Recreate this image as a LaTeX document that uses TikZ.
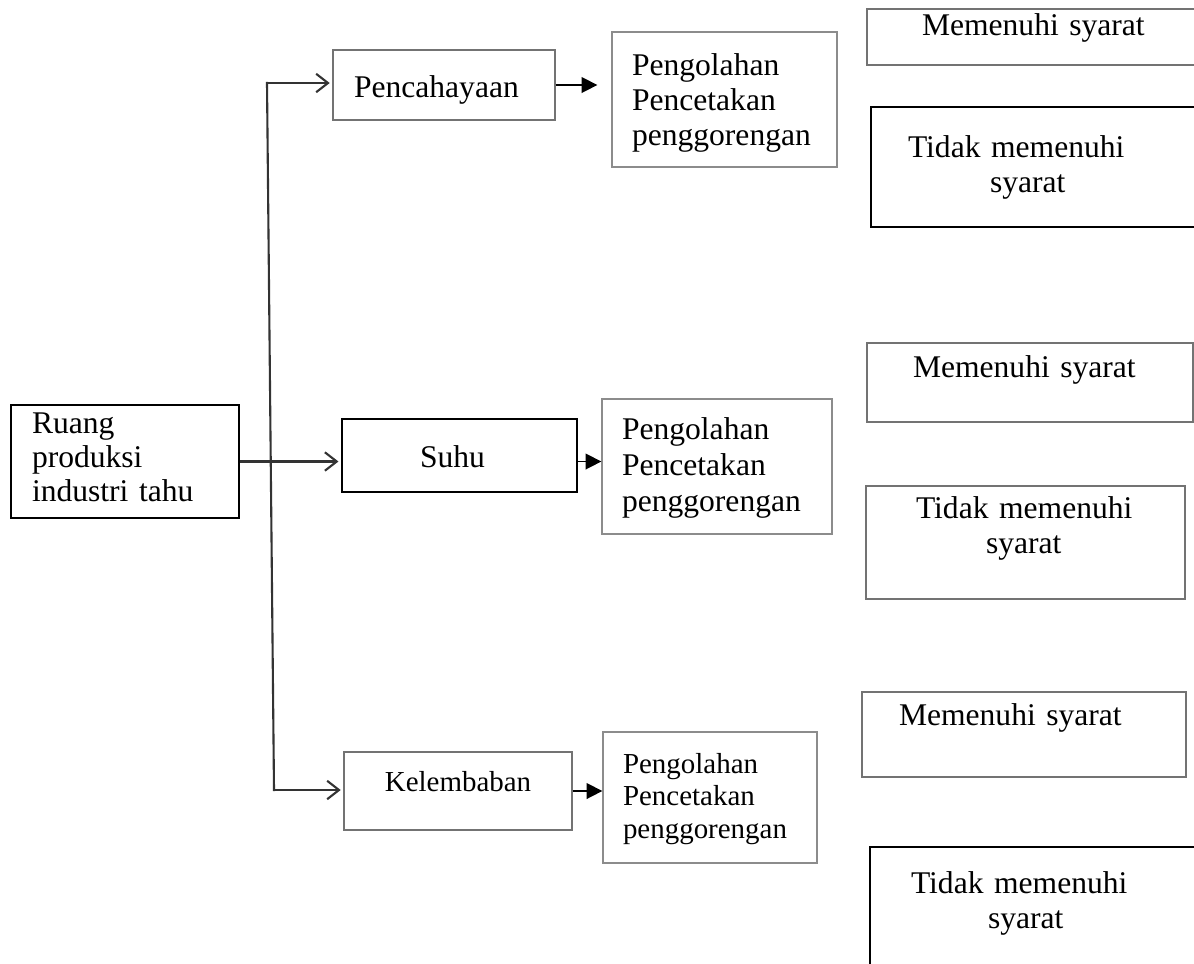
\documentclass[tikz,border=0pt]{standalone}
\usepackage{fontspec}
\setmainfont{Liberation Serif}
\usepackage{tikz}
\usetikzlibrary{arrows.meta, positioning}

\newdimen\pxl
\pxl=0.38pt

\begin{document}
\begin{tikzpicture}[
    x=0.38pt, y=-0.38pt,
    kotak/.style={rectangle, draw=black, line width=0.7pt, inner ysep=0pt, anchor=base, align=left, font=\fontsize{12pt}{13.8pt}\selectfont},
    kotakabu/.style={kotak, draw=black!55, line width=0.5pt},
    kotakmuda/.style={kotak, draw=black!45, line width=0.5pt},
    batang/.style={draw=black!80, line width=0.8pt, line cap=rect},
    cabang/.style={draw=black!80, line width=0.8pt, shorten >=1pt, -{Straight Barb[length=4.5pt,width=7pt]}},
    panah/.style={draw=black, line width=0.6pt, -{Triangle[length=6pt,width=6pt]}},
]
    \useasboundingbox (0,0) rectangle (1194,963);
    \clip (0,0) rectangle (1194,963);

    % kiri
    \node[kotak, text width=186\pxl, inner xsep=21\pxl, text height=28\pxl, text depth=85\pxl, font=\fontsize{12pt}{13pt}\selectfont] (ruang) at (125,433) {Ruang\\ produksi\\ industri tahu};

    % faktor
    \node[kotakabu, text width=180\pxl, inner xsep=21\pxl, text height=47\pxl, text depth=23\pxl] (cahaya) at (444,97) {Pencahayaan};
    \node[kotak, text width=79\pxl, inner xsep=78\pxl, text height=48\pxl, text depth=25\pxl] (suhu) at (459.5,467) {Suhu};
    \node[kotakabu, align=center, minimum width=228\pxl, text height=39\pxl, text depth=39\pxl, font=\fontsize{11pt}{12.6pt}\selectfont] (lembab) at (458,791) {Kelembaban};

    % proses
    \node[kotakmuda, text width=185\pxl, inner xsep=20\pxl, text height=43\pxl, text depth=92\pxl, font=\fontsize{12pt}{13.3pt}\selectfont] (olah1) at (724.5,75) {Pengolahan\\ Pencetakan\\ penggorengan};
    \node[kotakmuda, text width=190\pxl, inner xsep=20\pxl, text height=40\pxl, text depth=95\pxl] (olah2) at (717,439) {Pengolahan\\ Pencetakan\\ penggorengan};
    \node[kotakmuda, text width=174\pxl, inner xsep=20\pxl, text height=41\pxl, text depth=90\pxl, font=\fontsize{11pt}{12.4pt}\selectfont] (olah3) at (710,773) {Pengolahan\\ Pencetakan\\ penggorengan};

    % hasil
    \node[kotakabu, text width=233\pxl, inner xsep=55\pxl, text height=26\pxl, text depth=30\pxl] (ms1) at (1038.5,35) {Memenuhi syarat};
    \node[kotak, text width=265\pxl, inner xsep=37\pxl, text height=50\pxl, text depth=70\pxl, font=\fontsize{12pt}{13.3pt}\selectfont] (tms1) at (1040.5,157) {Tidak memenuhi\\ \hspace*{82\pxl}syarat};
    \node[kotakabu, text width=234\pxl, inner xsep=46\pxl, text height=34\pxl, text depth=45\pxl] (ms2) at (1030,377) {Memenuhi syarat};
    \node[kotakabu, text width=219\pxl, inner xsep=50\pxl, text height=32\pxl, text depth=81\pxl, font=\fontsize{12pt}{13.3pt}\selectfont] (tms2) at (1025.5,518) {Tidak memenuhi\\ \hspace*{70\pxl}syarat};
    \node[kotakabu, text width=250\pxl, inner xsep=37\pxl, text height=33\pxl, text depth=52\pxl] (ms3) at (1024,725) {Memenuhi syarat};
    \node[kotak, text width=258\pxl, inner xsep=41\pxl, text height=46\pxl, text depth=107\pxl, font=\fontsize{12pt}{13.3pt}\selectfont] (tms3) at (1040,893) {Tidak memenuhi\\ \hspace*{77\pxl}syarat};

    % garis
    \coordinate (atas) at (267,83);
    \coordinate (bawah) at (274,790);
    \draw[batang] (atas) -- (bawah);
    \draw[cabang] (atas) -- (atas -| cahaya.west);
    \draw[cabang] (ruang.east) -- (ruang.east -| suhu.west);
    \draw[cabang] (bawah) -- (bawah -| lembab.west);

    \draw[panah, shorten >=14\pxl] (cahaya.east) -- (cahaya.east -| olah1.west);
    \draw[panah] (ruang.east -| suhu.east) -- (ruang.east -| olah2.west);
    \draw[panah] (lembab.east) -- (lembab.east -| olah3.west);
\end{tikzpicture}
\end{document}
